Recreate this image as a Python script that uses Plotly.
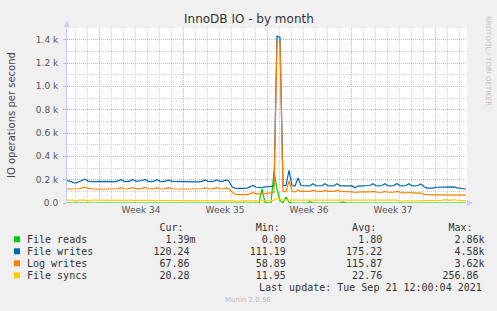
import plotly.graph_objects as go
import pandas as pd

title = "InnoDB IO - by month"
y_title = "IO operations per second"
series_names = ["File reads", "File writes", "Log writes", "File syncs"]
colors = ["#00CC00", "#0066B3", "#FF8000", "#FFCC00"]

# 6-hourly samples starting 2021-08-20 08:00
start_time = "2021-08-20 08:00"

file_reads = [
    0, 0, 0, 0, 0, 0, 0, 0, 0, 0,
    0, 0, 0, 0, 0, 0, 0, 0, 0, 0,
    0, 0, 0, 0, 0, 0, 0, 0, 0, 0,
    0, 0, 0, 0, 0, 0, 0, 0, 0, 0,
    0, 0, 0, 0, 0, 0, 0, 0, 0, 0,
    0, 0, 0, 0, 0, 0, 0, 0, 0, 0,
    0, 0, 0, 0, 2, 120, 5, 0, 3, 270,
    120, 20, 2, 50, 8, 2, 0, 0, 0, 0,
    0, 12, 0, 0, 0, 0, 0, 0, 0, 0,
    0, 0, 10, 0, 0, 0, 0, 0, 0, 0,
    0, 0, 0, 0, 0, 0, 0, 0, 0, 0,
    0, 0, 0, 0, 0, 0, 0, 0, 0, 0,
    0, 0, 0, 0, 0, 0, 0, 0, 0, 0,
    0, 0, 0, 0,
]
file_writes = [
    190, 188, 175, 172, 182, 195, 205, 188, 182, 183,
    185, 185, 184, 185, 184, 183, 184, 190, 200, 186,
    183, 190, 200, 185, 188, 193, 202, 186, 184, 188,
    200, 186, 184, 190, 196, 185, 184, 184, 183, 183,
    183, 183, 183, 183, 181, 186, 198, 186, 183, 188,
    198, 185, 186, 198, 186, 140, 128, 125, 122, 125,
    128, 140, 150, 135, 132, 133, 138, 140, 140, 145,
    1430, 1420, 150, 150, 280, 150, 145, 215, 150, 145,
    146, 148, 165, 148, 146, 148, 165, 148, 146, 148,
    165, 148, 147, 147, 147, 146, 130, 145, 147, 147,
    147, 150, 165, 148, 146, 150, 165, 148, 146, 150,
    167, 148, 146, 150, 165, 148, 146, 150, 163, 140,
    128, 127, 128, 135, 135, 134, 134, 135, 132, 138,
    130, 125, 122, 120,
]
log_writes = [
    120, 120, 118, 118, 122, 130, 135, 125, 120, 120,
    118, 118, 118, 116, 118, 118, 120, 122, 132, 122,
    120, 125, 132, 122, 122, 125, 133, 122, 120, 122,
    130, 122, 120, 125, 132, 122, 120, 120, 120, 120,
    120, 120, 120, 118, 118, 122, 130, 122, 120, 125,
    132, 122, 122, 130, 120, 95, 75, 72, 70, 70,
    72, 80, 88, 78, 76, 78, 80, 82, 85, 90,
    1380, 1380, 100, 95, 190, 100, 95, 110, 100, 98,
    98, 100, 108, 100, 98, 100, 108, 100, 98, 100,
    108, 100, 98, 97, 97, 96, 90, 95, 96, 96,
    95, 95, 100, 93, 90, 92, 100, 92, 90, 92,
    100, 90, 86, 86, 92, 86, 84, 84, 84, 75,
    70, 69, 69, 69, 69, 69, 69, 69, 69, 72,
    69, 68, 68, 68,
]
file_syncs = [
    24, 24, 24, 14, 24, 24, 24, 15, 24, 24,
    24, 24, 24, 24, 24, 24, 24, 24, 24, 24,
    24, 24, 24, 24, 24, 24, 24, 24, 24, 24,
    24, 24, 24, 24, 24, 24, 24, 24, 24, 24,
    24, 24, 24, 24, 24, 24, 24, 24, 24, 24,
    24, 24, 24, 24, 24, 18, 16, 16, 16, 16,
    16, 18, 20, 18, 18, 20, 20, 20, 20, 25,
    40, 35, 25, 24, 24, 24, 24, 24, 30, 24,
    24, 24, 24, 24, 24, 24, 24, 24, 24, 24,
    24, 24, 24, 24, 24, 24, 24, 24, 24, 24,
    24, 24, 24, 24, 24, 24, 24, 24, 24, 24,
    24, 17, 17, 17, 17, 17, 17, 17, 17, 22,
    22, 22, 22, 22, 22, 22, 28, 22, 22, 28,
    22, 21, 20, 20,
]

y_tick_vals = [0, 200, 400, 600, 800, 1000, 1200, 1400]
y_tick_text = ["0.0", "0.2 k", "0.4 k", "0.6 k", "0.8 k", "1.0 k", "1.2 k", "1.4 k"]

legend_headers = ["Cur:", "Min:", "Avg:", "Max:"]
cur_vals = ["1.39m", "120.24", "67.86", "20.28"]
min_vals = ["0.00", "111.19", "58.89", "11.95"]
avg_vals = ["1.80", "175.22", "115.87", "22.76"]
max_vals = ["2.86k", "4.58k", "3.62k", "256.86"]
last_update = "Last update: Tue Sep 21 12:00:04 2021"
footer = "Munin 2.0.56"
side_text = "RRDTOOL / TOBI OETIKER"

times = pd.date_range(start_time, periods=len(file_writes), freq="6h")
x_start = pd.Timestamp(start_time)
x_end = x_start + pd.Timedelta(hours=800)

W, H = 497, 311
L, R, T, B = 67, 30, 28, 108
PW, PH = W - L - R, H - T - B


def px(x):
    return (x - L) / PW


def py(y):
    return (T + PH - y) / PH


fig = go.Figure()
for name, vals, col in zip(series_names,
                           [file_reads, file_writes, log_writes, file_syncs],
                           colors):
    fig.add_trace(go.Scatter(x=times, y=vals, mode="lines", name=name,
                             line=dict(color=col, width=1.2), hoverinfo="skip"))

red_grid = "rgb(238,165,165)"
grey_grid = "rgb(205,205,205)"
axis_col = "#C4CAF0"

fig.update_layout(
    width=W, height=H,
    margin=dict(l=L, r=R, t=T, b=B),
    paper_bgcolor="#F0F0F0", plot_bgcolor="#FFFFFF",
    showlegend=False,
    font=dict(family="DejaVu Sans", size=9, color="#555555"),
)
fig.update_xaxes(
    type="date", range=[x_start, x_end],
    tick0="2021-08-23", dtick=7 * 86400000,
    ticklabelmode="period", tickformat="Week %V",
    tickfont=dict(family="DejaVu Sans", size=9, color="#555555"),
    showgrid=True, gridcolor=red_grid, griddash="1px,1px", gridwidth=1,
    minor=dict(dtick=86400000, tick0="2021-08-23", showgrid=True,
               gridcolor=grey_grid, griddash="1px,1px", gridwidth=1),
    showline=False, zeroline=False, ticks="",
)
fig.update_yaxes(
    range=[0, 1500],
    tickvals=y_tick_vals, ticktext=y_tick_text,
    tickfont=dict(family="DejaVu Sans", size=9, color="#555555"),
    showgrid=True, gridcolor=red_grid, griddash="1px,1px", gridwidth=1,
    minor=dict(dtick=100, showgrid=True, gridcolor=grey_grid,
               griddash="1px,1px", gridwidth=1),
    showline=True, linecolor=axis_col, linewidth=1,
    ticks="outside", ticklen=3, tickcolor="#BBBBBB",
    ticklabelstandoff=3, zeroline=False,
)

ann = []
ann.append(dict(text=title, x=px(248.5), y=py(19), xref="paper", yref="paper",
                showarrow=False, xanchor="center", yanchor="middle",
                font=dict(family="DejaVu Sans", size=12, color="#333333")))
ann.append(dict(text=y_title, x=px(11), y=py(115), xref="paper", yref="paper",
                showarrow=False, xanchor="center", yanchor="middle", textangle=-90,
                font=dict(family="DejaVu Sans", size=10, color="#444444")))
ann.append(dict(text=side_text, x=px(488), y=py(14), xref="paper", yref="paper",
                showarrow=False, xanchor="center", yanchor="top", textangle=90,
                font=dict(family="DejaVu Sans", size=7, color="#C4C4C4")))
ann.append(dict(text=footer, x=px(248), y=py(300), xref="paper", yref="paper",
                showarrow=False, xanchor="center", yanchor="middle",
                font=dict(family="DejaVu Sans", size=7, color="#BBBBBB")))
# axis arrows
ann.append(dict(text="", x=px(473), y=py(203), xref="paper", yref="paper",
                showarrow=True, ax=-8, ay=0, arrowhead=2, arrowsize=1.2,
                arrowwidth=1, arrowcolor=axis_col))
ann.append(dict(text="", x=px(67), y=py(21), xref="paper", yref="paper",
                showarrow=True, ax=0, ay=8, arrowhead=2, arrowsize=1.2,
                arrowwidth=1, arrowcolor=axis_col))

NB = "\u00a0"
mono = dict(family="DejaVu Sans Mono", size=10, color="#333333")


def field(v):
    s = v if v[-1].isalpha() else v + " "
    return s.rjust(16)


header = " " * 12 + "".join((h + "  ").rjust(16) for h in legend_headers)
row_y = [239.3, 251.3, 263.3, 275.3]
ann.append(dict(text=header.replace(" ", NB), x=px(25), y=py(227.7),
                xref="paper", yref="paper", showarrow=False,
                xanchor="left", yanchor="middle", font=mono))
shapes = []
for i, name in enumerate(series_names):
    line = name.ljust(12) + field(cur_vals[i]) + field(min_vals[i]) + \
        field(avg_vals[i]) + field(max_vals[i])
    ann.append(dict(text=line.replace(" ", NB), x=px(25), y=py(row_y[i]),
                    xref="paper", yref="paper", showarrow=False,
                    xanchor="left", yanchor="middle", font=mono))
    shapes.append(dict(type="rect", xref="paper", yref="paper",
                       x0=px(14), x1=px(20), y0=py(row_y[i] + 3), y1=py(row_y[i] - 3),
                       fillcolor=colors[i], line=dict(width=0)))
ann.append(dict(text=last_update.replace(" ", NB), x=px(484), y=py(287.3),
                xref="paper", yref="paper", showarrow=False,
                xanchor="right", yanchor="middle", font=mono))

fig.update_layout(annotations=ann, shapes=shapes)
fig.write_html("out.html")
